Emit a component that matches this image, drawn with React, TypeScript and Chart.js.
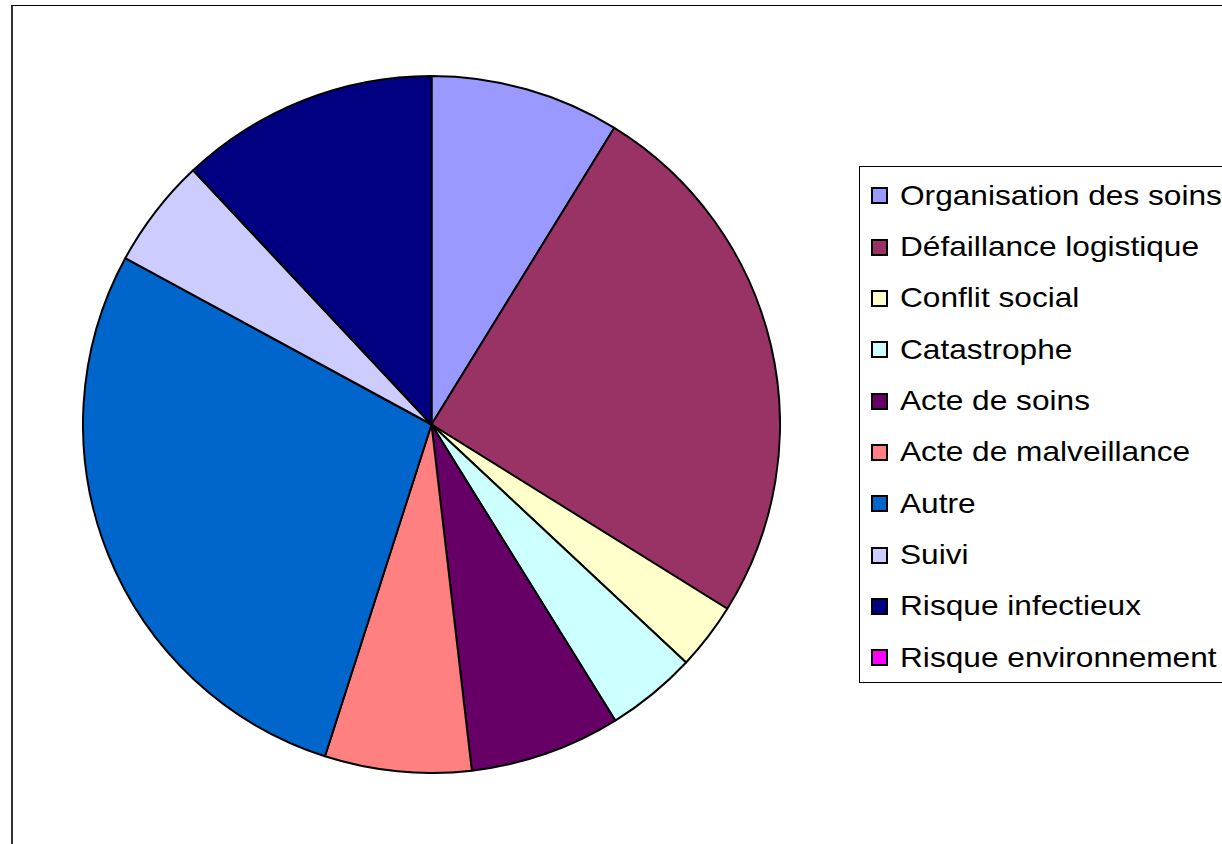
import React, { useEffect, useRef } from "react";
import { Chart, registerables } from "chart.js";

Chart.register(...registerables);

const categories = [
  "Organisation des soins",
  "Défaillance logistique",
  "Conflit social",
  "Catastrophe",
  "Acte de soins",
  "Acte de malveillance",
  "Autre",
  "Suivi",
  "Risque infectieux",
  "Risque environnement",
];

const values = [8.8, 25.1, 3.1, 4.2, 7.0, 6.8, 28.0, 5.1, 12.0, 0];

const colors = [
  "#9999FF",
  "#993366",
  "#FFFFCC",
  "#CCFFFF",
  "#660066",
  "#FF8080",
  "#0066CC",
  "#CCCCFF",
  "#000080",
  "#FF00FF",
];

export default function App() {
  const ref = useRef<HTMLCanvasElement | null>(null);

  useEffect(() => {
    if (!ref.current) return;
    const chart = new Chart(ref.current, {
      type: "pie",
      data: {
        labels: categories,
        datasets: [
          {
            data: values,
            backgroundColor: colors,
            borderColor: "#000000",
            borderWidth: 2,
          },
        ],
      },
      options: {
        animation: false,
        responsive: false,
        maintainAspectRatio: false,
        layout: { padding: 0 },
        plugins: {
          legend: { display: false },
          tooltip: { enabled: false },
        },
      },
    });
    return () => chart.destroy();
  }, []);

  const rowH = 51.35;

  return (
    <div
      style={{
        position: "fixed",
        left: 0,
        top: 0,
        width: 1222,
        height: 844,
        overflow: "hidden",
        background: "#ffffff",
      }}
    >
      <div
        style={{
          position: "absolute",
          left: 11,
          top: 5,
          width: 1300,
          height: 900,
          borderTop: "1px solid #000",
          borderLeft: "2px solid #333",
          boxSizing: "border-box",
        }}
      />
      <canvas
        ref={ref}
        width={699}
        height={699}
        style={{ position: "absolute", left: 82, top: 75, width: 699, height: 699 }}
      />
      <div
        style={{
          position: "absolute",
          left: 859,
          top: 166,
          width: 400,
          height: 517,
          border: "1px solid #000",
          boxSizing: "border-box",
          background: "#fff",
          fontFamily: '"Liberation Sans", Arial, sans-serif',
          fontSize: 28,
          color: "#000",
        }}
      >
        {categories.map((c, i) => (
          <div
            key={c}
            style={{
              position: "absolute",
              left: 0,
              top: 3 + i * rowH,
              height: rowH,
              display: "flex",
              alignItems: "center",
              whiteSpace: "nowrap",
            }}
          >
            <span
              style={{
                display: "inline-block",
                width: 13,
                height: 13,
                marginLeft: 11,
                marginRight: 12,
                background: colors[i],
                border: "2px solid #000",
              }}
            />
            <span
              style={{
                display: "inline-block",
                transform: "scaleX(1.13)",
                transformOrigin: "left center",
              }}
            >
              {c}
            </span>
          </div>
        ))}
      </div>
    </div>
  );
}
